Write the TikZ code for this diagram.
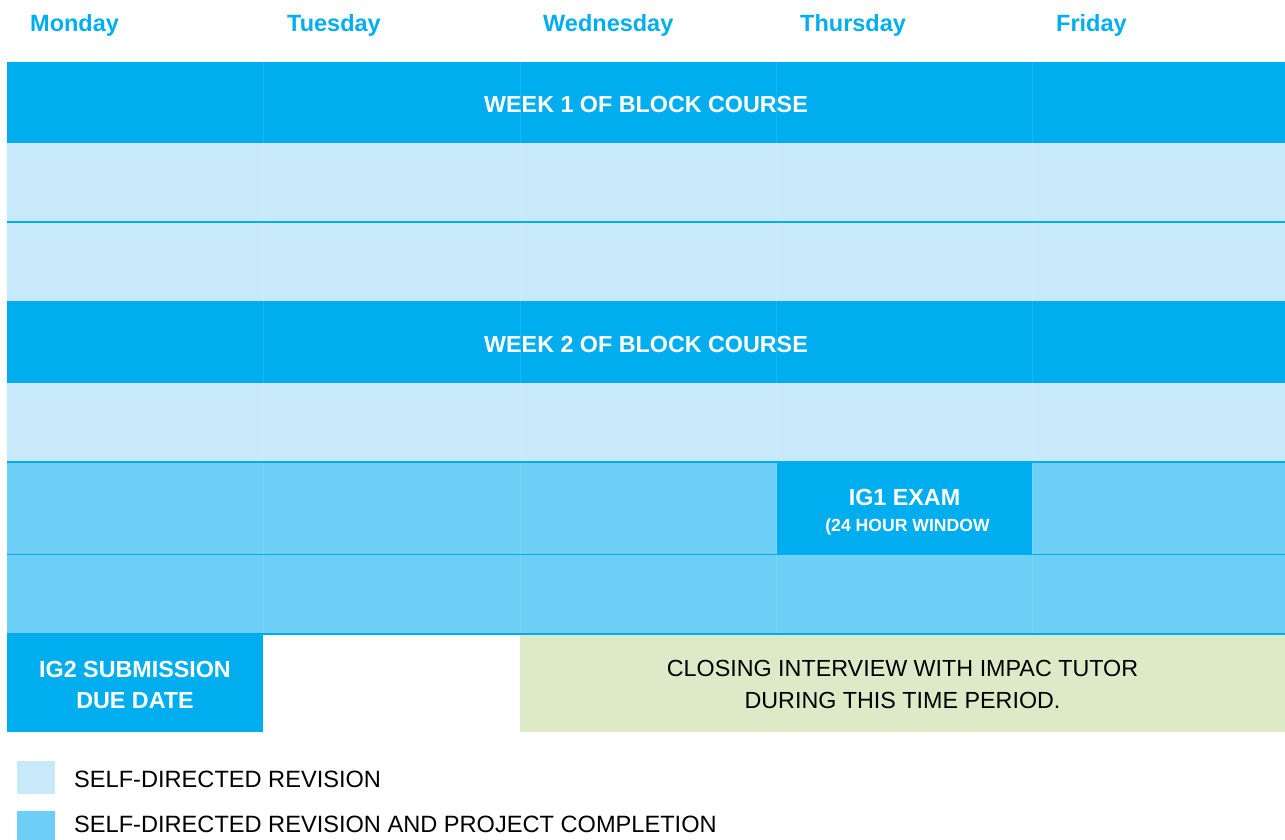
\documentclass[tikz,border=0pt]{standalone}
\usepackage{fontspec}
\setmainfont{Liberation Sans}
\definecolor{dblue}{HTML}{00AEEF}
\definecolor{lblue}{HTML}{C7E9F9}
\definecolor{mblue}{HTML}{6DCFF6}
\definecolor{lgreen}{HTML}{DDEAC8}
\begin{document}
\begin{tikzpicture}[x=1pt,y=-1pt,
  cellbox/.style={anchor=north west, inner sep=0pt, outer sep=0pt, draw=none},
  day/.style={anchor=base west, inner sep=0pt, text=dblue, font=\fontsize{23.5}{27}\selectfont\bfseries},
  wtext/.style={text=white, align=center, inner sep=0pt, font=\fontsize{23.3}{31}\selectfont\bfseries},
  stext/.style={text=white, align=center, inner sep=0pt, font=\fontsize{17.6}{20}\selectfont\bfseries},
  btext/.style={text=black, align=center, inner sep=0pt, font=\fontsize{23.3}{32}\selectfont},
  ltext/.style={text=black, anchor=base west, inner sep=0pt, font=\fontsize{23.6}{27}\selectfont},
  sep/.style={draw=dblue, line width=2pt},
  vsep/.style={draw=white, opacity=0.1, line width=0.8pt}
]
\useasboundingbox (0,0) rectangle (1285,839);
% day headers
\node[day] (mon) at (30,31) {Monday};
\node[day] (tue) at (287,31) {Tuesday};
\node[day] (wed) at (543,31) {Wednesday};
\node[day] (thu) at (800,31) {Thursday};
\node[day] (fri) at (1056,31) {Friday};
% rows
\node[cellbox, fill=dblue, minimum width=1278pt, minimum height=81pt] (w1) at (7,62) {};
\node[cellbox, fill=lblue, minimum width=1278pt, minimum height=79pt] (r1) at (7,143) {};
\node[cellbox, fill=lblue, minimum width=1278pt, minimum height=79pt] (r2) at (7,222) {};
\node[cellbox, fill=dblue, minimum width=1278pt, minimum height=82pt] (w2) at (7,301) {};
\node[cellbox, fill=lblue, minimum width=1278pt, minimum height=79pt] (r3) at (7,383) {};
\node[cellbox, fill=mblue, minimum width=1278pt, minimum height=92pt] (r4) at (7,462) {};
\node[cellbox, fill=mblue, minimum width=1278pt, minimum height=80pt] (r5) at (7,554) {};
\node[cellbox, fill=dblue, minimum width=255pt, minimum height=92pt] (ig1) at (777,462) {};
% faint column lines
\foreach \xx in {263,520,776,1032}{
  \draw[vsep] (\xx,62) -- (\xx,634);
}
% separators
\draw[sep] (r1.south west) -- (r1.south east);
\draw[sep] (r3.south west) -- (r3.south east);
\draw[sep, line width=1pt] (r4.south west) -- (r4.south east);
\draw[sep] (r5.south west) -- (r5.south east);
% bottom row
\node[cellbox, fill=dblue, minimum width=256pt, minimum height=97pt] (ig2) at (7,635) {};
\node[cellbox, fill=lgreen, minimum width=765pt, minimum height=97pt] (cl) at (520,635) {};
% texts
\node[wtext] (w1t) at ([yshift=-2pt]w1.center) {WEEK 1 OF BLOCK COURSE};
\node[wtext] (w2t) at ([yshift=-2pt]w2.center) {WEEK 2 OF BLOCK COURSE};
\node[wtext] (ig1t) at ([yshift=10.5pt]ig1.center) {IG1 EXAM};
\node[stext] (ig1s) at ([xshift=3pt,yshift=-19pt]ig1.center) {(24 HOUR WINDOW};
\node[wtext] (ig2t) at ([yshift=-1pt]ig2.center) {IG2 SUBMISSION\\DUE DATE};
\node[btext] (clt) at ([yshift=-1pt]cl.center) {CLOSING INTERVIEW WITH IMPAC TUTOR\\DURING THIS TIME PERIOD.};
% legend
\node[cellbox, fill=lblue, minimum width=38pt, minimum height=33pt] (lg1) at (17,761) {};
\node[cellbox, fill=mblue, minimum width=38pt, minimum height=33pt] (lg2) at (17,811) {};
\node[ltext] (lg1t) at (74,787) {SELF-DIRECTED REVISION};
\node[ltext] (lg2t) at (74,832) {SELF-DIRECTED REVISION AND PROJECT COMPLETION};
\end{tikzpicture}
\end{document}
